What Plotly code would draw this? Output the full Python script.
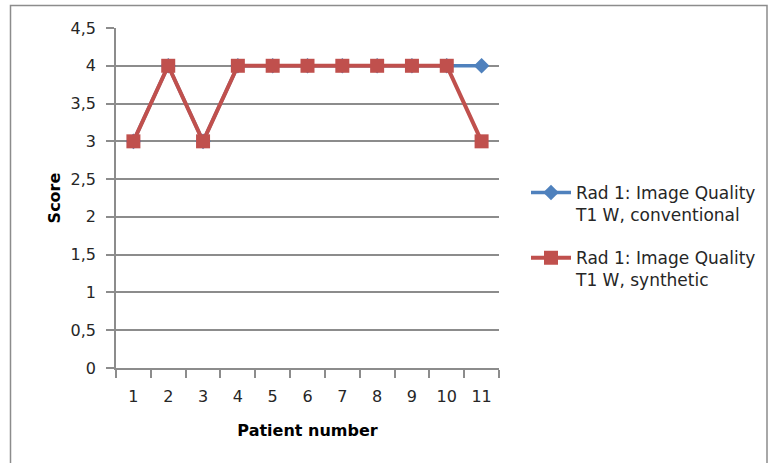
import plotly.graph_objects as go

# Patient scores, radiologist 1, T1-weighted image quality
patients = ["1", "2", "3", "4", "5", "6", "7", "8", "9", "10", "11"]
conventional = [3, 4, 3, 4, 4, 4, 4, 4, 4, 4, 4]
synthetic = [3, 4, 3, 4, 4, 4, 4, 4, 4, 4, 3]
y_ticks = [0, 0.5, 1, 1.5, 2, 2.5, 3, 3.5, 4, 4.5]

W, H = 768, 463
ML, MR, MT, MB = 116, 269, 28, 95
PW, PH = W - ML - MR, H - MT - MB

FONT = "DejaVu Sans"
TXT = "#262626"
GRID = "#8c8c8c"


def px_x(p):
    return (p - ML) / PW


def px_y(p):
    return (H - MB - p) / PH


fig = go.Figure()
fig.add_trace(go.Scatter(
    x=patients, y=conventional, mode="lines+markers",
    name="Rad 1: Image Quality<br>T1 W, conventional",
    line=dict(color="#4f81bd", width=3.5),
    marker=dict(symbol="diamond", size=12, color="#4f81bd"),
    legendgroup="a",
))
fig.add_trace(go.Scatter(
    x=patients, y=synthetic, mode="lines+markers",
    name="Rad 1: Image Quality<br>T1 W, synthetic",
    line=dict(color="#c0504d", width=4),
    marker=dict(symbol="square", size=14, color="#c0504d"),
    legendgroup="b",
))

fig.update_layout(
    width=W, height=H,
    margin=dict(l=ML, r=MR, t=MT, b=MB, autoexpand=False),
    paper_bgcolor="white", plot_bgcolor="white",
    separators=", ",
    font=dict(family=FONT, size=16, color=TXT),
    showlegend=True,
    legend=dict(
        x=px_x(526), y=px_y(175), xanchor="left", yanchor="top",
        font=dict(family=FONT, size=17, color=TXT),
        bgcolor="rgba(0,0,0,0)", tracegroupgap=18,
        itemwidth=40, valign="top",
    ),
    xaxis=dict(
        type="category", tickson="boundaries",
        showgrid=False, showline=True, linecolor=GRID, linewidth=1.5,
        ticks="outside", ticklen=8, tickcolor=GRID, tickwidth=1.5,
        tickfont=dict(family=FONT, size=16, color=TXT),
        ticklabelstandoff=13,
        title=dict(text="<b>Patient number</b>", font=dict(family=FONT, size=16, color="#000"), standoff=20),
        range=[-0.5, len(patients) - 0.5],
    ),
    yaxis=dict(
        range=[0, 4.5], tickvals=y_ticks,
        showgrid=True, gridcolor=GRID, gridwidth=1.5,
        showline=True, linecolor=GRID, linewidth=1.5,
        ticks="outside", ticklen=8, tickcolor=GRID, tickwidth=1.5,
        tickfont=dict(family=FONT, size=16, color=TXT),
        ticklabelstandoff=7,
        zeroline=False,
        title=dict(text="<b>Score</b>", font=dict(family=FONT, size=16, color="#000"), standoff=6),
    ),
    shapes=[dict(
        type="rect", xref="paper", yref="paper",
        x0=px_x(10.5), x1=px_x(767), y0=px_y(5.5), y1=px_y(470),
        line=dict(color="#8c8c8c", width=1.5), fillcolor="rgba(0,0,0,0)",
        layer="below",
    )],
)

fig.write_html("out.html")
